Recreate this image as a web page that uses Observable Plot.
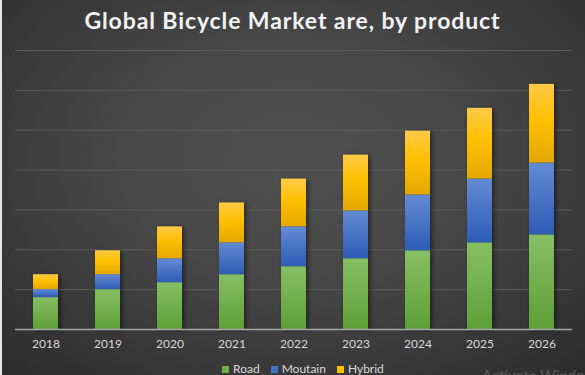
<!DOCTYPE html>
<html>
<head>
<meta charset="utf-8">
<script src="https://cdn.jsdelivr.net/npm/d3@7"></script>
<script src="https://cdn.jsdelivr.net/npm/@observablehq/plot@0.6"></script>
<style>
  html, body { margin: 0; padding: 0; background: #2b2b2b; }
  #chart {
    position: relative; width: 585px; height: 375px; overflow: hidden;
    background: radial-gradient(ellipse 75% 80% at 50% 42%, #505050 0%, #474747 40%, #373737 75%, #2b2b2b 100%);
    font-family: Lato, "Open Sans", sans-serif;
  }
  #edge { position: absolute; left: 0; top: 0; width: 2px; height: 375px; background: #e6e6e6; }
  #title {
    position: absolute; left: 0; top: 9px; width: 585px; text-align: center;
    font: 700 23px/23px Lato, sans-serif; color: #f2f2f2; letter-spacing: 0.9px;
  }
  #plot { position: absolute; left: 0; top: 40px; }
  #legend { position: absolute; left: 222px; top: 362px; }
  #legend .lg-swatches { min-height: 0; margin: 0; line-height: 14px; }
  #legend .lg-swatch { margin-right: 11px; }
  #legend .lg-swatch > svg { margin-right: 4px; }
  #wm { position: absolute; left: 482px; top: 366px; font: 15px Lato, sans-serif; color: rgba(255,255,255,0.2); white-space: nowrap; }
</style>
</head>
<body>
<div id="chart">
  <div id="edge"></div>
  <div id="title">Global Bicycle Market are, by product</div>
  <div id="plot"></div>
  <div id="legend"></div>
  <div id="wm">Activate Windows</div>
</div>
<script>
const years = [2018, 2019, 2020, 2021, 2022, 2023, 2024, 2025, 2026];
const road = [8, 10, 11.75, 13.75, 15.75, 17.75, 19.75, 21.75, 23.75];
const mountain = [2, 3.75, 6, 8, 10, 12, 14, 16, 18];
const hybrid = [3.75, 6, 8, 10, 12, 14, 16, 17.75, 19.75];
const products = ["Road", "Moutain", "Hybrid"];
const yTicks = [10, 20, 30, 40, 50, 60, 70];
const solidColors = ["#70ad47", "#4472c4", "#ffc000"];
const gradientFills = ["url(#gRoad)", "url(#gMount)", "url(#gHybrid)"];

const series = [road, mountain, hybrid];
const data = years.flatMap((yr, i) =>
  products.map((p, k) => ({ year: String(yr), product: p, value: series[k][i] }))
);

const chart = Plot.plot({
  width: 585,
  height: 315,
  marginTop: 10,
  marginBottom: 26,
  marginLeft: 15,
  marginRight: 13,
  style: { background: "transparent", color: "#d9d9d9", fontFamily: "Lato, sans-serif", fontSize: "12px", overflow: "visible" },
  x: { type: "band", domain: years.map(String), paddingInner: 0.6, paddingOuter: 0.28, label: null },
  y: { domain: [0, 70], axis: null },
  color: { domain: products, range: gradientFills },
  marks: [
    Plot.ruleY(yTicks, { stroke: "#5e5e5e", strokeWidth: 1 }),
    Plot.barY(data, { x: "year", y: "value", fill: "product" }),
    Plot.ruleY([0], { stroke: "#a8a8a8", strokeWidth: 1.5 }),
    Plot.axisX({ tickSize: 0, tickPadding: 10, fontSize: 12, label: null })
  ]
});

// gradients for the bars
const ns = "http://www.w3.org/2000/svg";
const defs = document.createElementNS(ns, "defs");
const grads = [
  ["gRoad", [[0, "#86bf64"], [1, "#5e9f36"]]],
  ["gMount", [[0, "#658bd4"], [1, "#2d5cb6"]]],
  ["gHybrid", [[0, "#ffca48"], [0.45, "#ffc000"], [1, "#e3a800"]]]
];
for (const [id, stops] of grads) {
  const g = document.createElementNS(ns, "linearGradient");
  g.setAttribute("id", id);
  g.setAttribute("x1", "0"); g.setAttribute("y1", "0");
  g.setAttribute("x2", "0"); g.setAttribute("y2", "1");
  for (const [o, c] of stops) {
    const s = document.createElementNS(ns, "stop");
    s.setAttribute("offset", o);
    s.setAttribute("stop-color", c);
    g.appendChild(s);
  }
  defs.appendChild(g);
}
chart.insertBefore(defs, chart.firstChild);
const barG = chart.querySelector('g[aria-label="bar"]');
if (barG) barG.style.filter = "drop-shadow(2px 1px 2px rgba(0,0,0,0.5))";

document.getElementById("plot").appendChild(chart);

const legend = Plot.legend({
  color: { domain: products, range: solidColors },
  legend: "swatches",
  swatchSize: 7,
  className: "lg",
  style: { color: "#d9d9d9", fontFamily: "Lato, sans-serif", fontSize: "12px", margin: "0" }
});
document.getElementById("legend").appendChild(legend);
</script>
</body>
</html>
